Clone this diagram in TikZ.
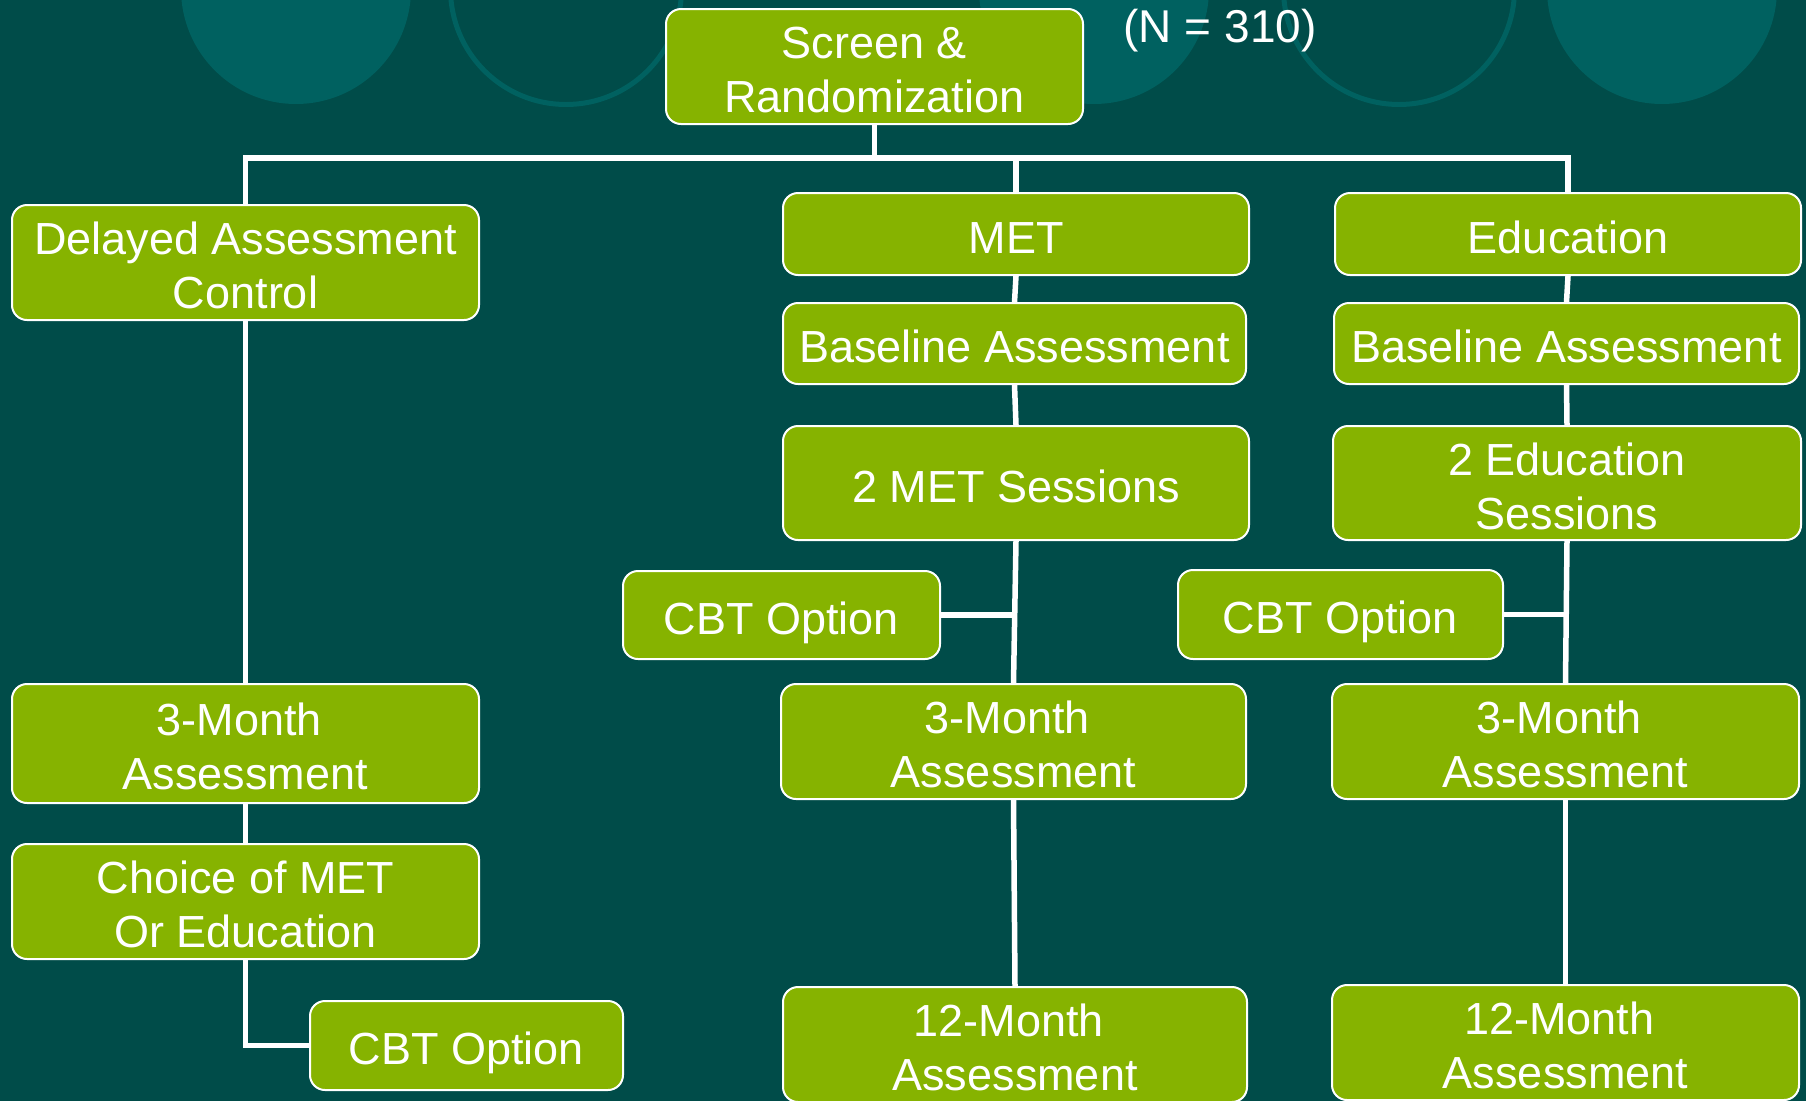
\documentclass[tikz,border=0pt]{standalone}
\usepackage{fontspec}
\setmainfont{Liberation Sans}
\pgfdeclarelayer{bglayer}
\pgfdeclarelayer{connlayer}
\pgfsetlayers{bglayer,connlayer,main}
\definecolor{bgteal}{RGB}{0,76,73}
\definecolor{circteal}{RGB}{0,97,96}
\definecolor{boxgreen}{RGB}{134,179,0}
\newcommand{\tsp}{\kern12.5pt}
\begin{document}
\begin{tikzpicture}[x=1pt,y=-1pt,
  box/.style={draw=white, line width=2pt, fill=boxgreen, rounded corners=15pt,
    text=white, font=\fontsize{45}{54}\selectfont, align=center, inner sep=0pt},
  oneline/.style={text height=38pt, text depth=0pt},
  twoline/.style={text height=92pt, text depth=0pt},
  wh/.style 2 args={minimum width=#1, minimum height=#2},
  conn/.style={draw=white, line width=5.5pt},
  ntext/.style={text=white, font=\fontsize{46}{54}\selectfont, inner sep=0pt}]

\useasboundingbox (0,0) rectangle (1806,1101);
\begin{pgfonlayer}{bglayer}
  \fill[bgteal] (0,0) rectangle (1806,1101);
  \fill[circteal] (296,-11) circle[radius=115];
  \fill[circteal] (1094,-11) circle[radius=115];
  \fill[circteal] (1662,-11) circle[radius=115];
  \draw[circteal, line width=5pt] (566,-11) circle[radius=115.5];
  \draw[circteal, line width=5pt] (1399,-11) circle[radius=115.5];
\end{pgfonlayer}

% nodes
\node[box, twoline, wh={417}{115}] (scr) at (874.5,66.5) {Screen \&\\Randomization};
\node[ntext, anchor=base] (n) at (1220,42) {(N = 310)};

\node[box, twoline, wh={467}{115}] (del) at (245.5,262.5) {Delayed Assessment\\Control};
\node[box, twoline, wh={467}{119}] (tml) at (245.5,743.5) {3-Month\tsp\\Assessment};
\node[box, twoline, wh={467}{115}] (cho) at (245.5,901.5) {Choice of MET\\Or Education};
\node[box, oneline, wh={313}{89}] (cbtl) at (466.5,1045.5) {CBT Option};

\node[box, oneline, wh={466}{82}] (met) at (1016,234) {MET};
\node[box, oneline, wh={463}{81}] (bam) at (1014.5,343.5) {Baseline Assessment};
\node[box, oneline, wh={466}{114}] (sm) at (1016,483) {2 MET Sessions};
\node[box, oneline, wh={317}{88}] (cbtm) at (781.5,615) {CBT Option};
\node[box, twoline, wh={465}{115}] (tmm) at (1013.5,741.5) {3-Month\tsp\\Assessment};
\node[box, twoline, wh={464}{115}] (twm) at (1015,1044.5) {12-Month\tsp\\Assessment};

\node[box, oneline, wh={466}{82}] (edu) at (1568,234) {Education};
\node[box, oneline, wh={465}{81}] (bae) at (1566.5,343.5) {Baseline Assessment};
\node[box, twoline, wh={468}{114}] (se) at (1567,483) {2 Education\\Sessions};
\node[box, oneline, wh={325}{89}] (cbte) at (1340.5,614.5) {CBT Option};
\node[box, twoline, wh={467}{115}] (tme) at (1565.5,741.5) {3-Month\tsp\\Assessment};
\node[box, twoline, wh={467}{115}] (twe) at (1565.5,1042.5) {12-Month\tsp\\Assessment};

\coordinate (j0) at (874.5,158);

\begin{pgfonlayer}{connlayer}
  \draw[conn] (scr.south) -- (j0);
  \draw[conn] (j0) -| (del.north);
  \draw[conn] (j0) -| (met.north);
  \draw[conn] (j0) -| (edu.north);

  \draw[conn] (del.south) -- (tml.north);
  \draw[conn] (tml.south) -- (cho.north);
  \draw[conn] (cho.south) |- (cbtl.west);

  \draw[conn] (met.south) -- (bam.north);
  \draw[conn] (bam.south) -- (sm.north);
  \draw[conn] (sm.south) -- (tmm.north);
  \draw[conn] (cbtm.east) -- (cbtm.east -| sm.south);
  \draw[conn] (tmm.south) -- (twm.north);

  \draw[conn] (edu.south) -- (bae.north);
  \draw[conn] (bae.south) -- (se.north);
  \draw[conn] (se.south) -- (tme.north);
  \draw[conn] (cbte.east) -- (cbte.east -| se.south);
  \draw[conn] (tme.south) -- (twe.north);
\end{pgfonlayer}
\end{tikzpicture}
\end{document}
